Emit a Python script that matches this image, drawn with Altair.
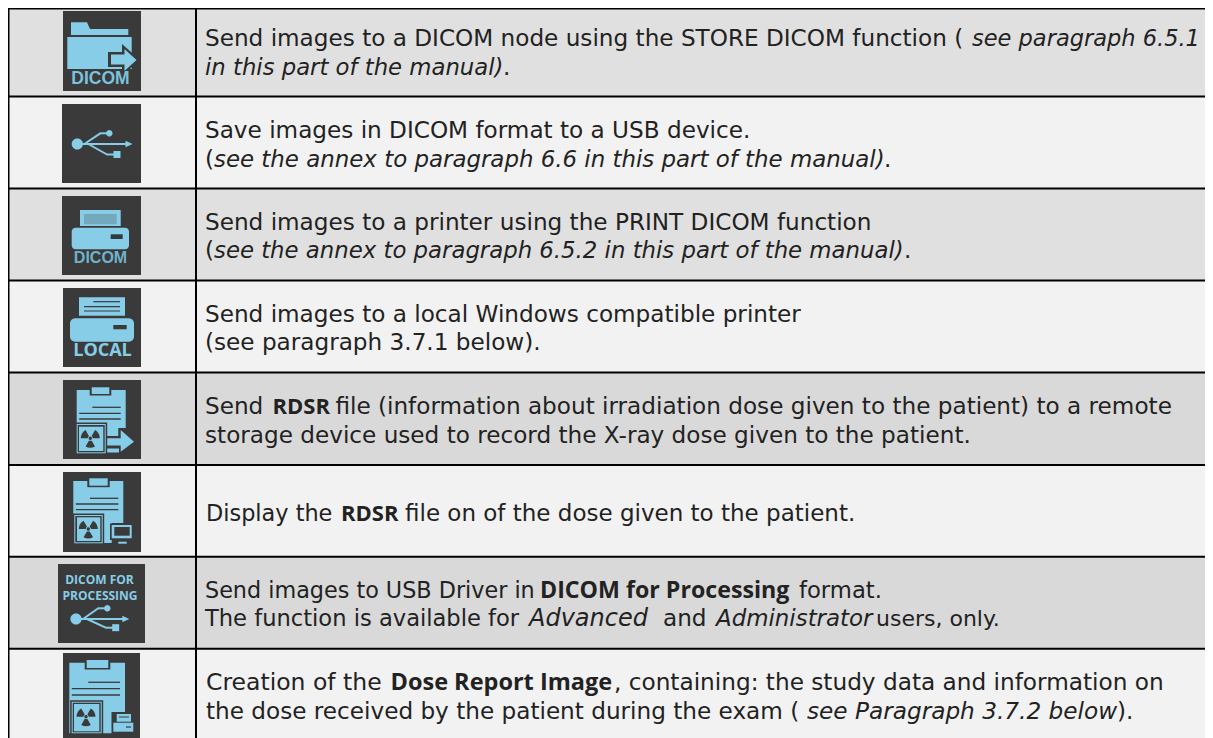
import math
import altair as alt
import pandas as pd

FONT = "DejaVu Sans"
BOLD_FONT = "Open Sans"
INK = "#222222"
DARK = "#3a3a3a"
BLUE = "#87cde8"

row_edges = [8, 96.5, 188.5, 280.5, 372.5, 465, 556.7, 648.7, 738]
row_fills = ["#e0e0e0", "#f2f2f2", "#e0e0e0", "#f2f2f2", "#d9d9d9", "#f2f2f2", "#d9d9d9", "#f2f2f2"]
col_x = 196

# text runs: (x, baseline, size, style, text)
runs = [
    (205, 46, 23.15, "normal", "Send images to a DICOM node using the STORE DICOM function ("),
    (972, 46, 22.5, "italic", "see paragraph 6.5.1"),
    (205, 75, 22.75, "italic", "in this part of the manual)"),
    (503, 75, 23.15, "normal", "."),
    (205, 138.3, 23.15, "normal", "Save images in DICOM format to a USB device."),
    (205, 166.7, 23.15, "normal", "("),
    (214, 166.7, 22.9, "italic", "see the annex to paragraph 6.6 in this part of the manual)"),
    (884, 166.7, 23.15, "normal", "."),
    (205, 230, 23.15, "normal", "Send images to a printer using the PRINT DICOM function"),
    (205, 258.3, 23.15, "normal", "("),
    (214, 258.3, 22.8, "italic", "see the annex to paragraph 6.5.2 in this part of the manual)"),
    (904, 258.3, 23.15, "normal", "."),
    (205, 321.7, 23.15, "normal", "Send images to a local Windows compatible printer"),
    (205, 350, 23.15, "normal", "(see paragraph 3.7.1 below)."),
    (205, 414, 23.15, "normal", "Send"),
    (272.5, 414, 22, "bold", "RDSR"),
    (335.4, 414, 23.15, "normal", "file (information about irradiation dose given to the patient) to a remote"),
    (205, 443, 23.15, "normal", "storage device used to record the X-ray dose given to the patient."),
    (206, 521.3, 22.4, "normal", "Display the"),
    (341, 521.3, 22, "bold", "RDSR"),
    (405, 521.3, 23, "normal", "file on of the dose given to the patient."),
    (205, 598, 22.3, "normal", "Send images to USB Driver in"),
    (540, 598, 23.2, "bold", "DICOM for Processing"),
    (799, 598, 22.7, "normal", "format."),
    (205, 626.3, 22.6, "normal", "The function is available for"),
    (529, 626.3, 24, "italic", "Advanced"),
    (663, 626.3, 23.15, "normal", "and"),
    (716, 626.3, 22.9, "italic", "Administrator"),
    (876, 626.3, 22, "normal", "users, only."),
    (206, 689.7, 23.5, "normal", "Creation of the"),
    (390.5, 689.7, 23.5, "bold", "Dose Report Image"),
    (614, 689.7, 23.2, "normal", ", containing: the study data and information on"),
    (206, 718.7, 23.15, "normal", "the dose received by the patient during the exam ("),
    (807, 718.7, 23.2, "italic", "see Paragraph 3.7.2 below"),
    (1117, 718.7, 23.15, "normal", ")."),
]

# icon tiles in reference pixels: x0, x1, y0, y1
tiles = [
    (63, 141, 11, 91), (62, 141, 104, 183), (62, 141, 196, 275), (63, 141, 288, 367),
    (63, 141, 380, 459), (63, 141, 472, 552), (58, 145, 564, 643), (63, 140, 653, 738),
]

# icon captions: x centre, baseline, size, colour, text
captions_sans = [
    (100.5, 84, 17.5, "#7cc3dd", "DICOM"),
    (100.5, 263, 16, "#6fb2cc", "DICOM"),
]
captions_open = [
    (102.5, 356, 18, "#87cde8", "LOCAL"),
    (99.5, 584, 12, "#87cde8", "DICOM FOR"),
    (100, 600, 12, "#87cde8", "PROCESSING"),
]


def rect(x0, y0, x1, y1):
    return [(x0, y0), (x1, y0), (x1, y1), (x0, y1)]


def round_rect(x0, y0, x1, y1, r):
    pts = []
    for cx, cy, a in [(x1 - r, y0 + r, -90), (x1 - r, y1 - r, 0), (x0 + r, y1 - r, 90), (x0 + r, y0 + r, 180)]:
        for k in range(5):
            t = math.radians(a + k * 22.5)
            pts.append((cx + r * math.cos(t), cy + r * math.sin(t)))
    return pts


def circle(cx, cy, r):
    return [(cx + r * math.cos(math.radians(a)), cy + r * math.sin(math.radians(a))) for a in range(0, 360, 15)]


def seg(x0, y0, x1, y1, w):
    d = math.hypot(x1 - x0, y1 - y0)
    nx, ny = -(y1 - y0) / d * w / 2, (x1 - x0) / d * w / 2
    return [(x0 + nx, y0 + ny), (x1 + nx, y1 + ny), (x1 - nx, y1 - ny), (x0 - nx, y0 - ny)]


def blade(cx, cy, a, r0, r1):
    pts = []
    for d in (-30, -15, 0, 15, 30):
        t = math.radians(a + d)
        pts.append((cx + r1 * math.cos(t), cy + r1 * math.sin(t)))
    for d in (30, -30):
        t = math.radians(a + d)
        pts.append((cx + r0 * math.cos(t), cy + r0 * math.sin(t)))
    return pts


glyphs = []


def add(icon, color, *shapes):
    ox, _, oy, _ = tiles[icon]
    for pts in shapes:
        path = "M" + " L".join(f"{x - ox:.2f},{y - oy:.2f}" for x, y in pts) + " Z"
        glyphs.append(dict(ax=ox, ay=oy, path=path, color=color, seq=len(glyphs)))


def usb(icon, cy, x0, tip, up, low):
    add(icon, BLUE,
        circle(x0, cy, 5.6),
        seg(x0, cy, tip - 5, cy, 2),
        [(tip, cy), (tip - 7, cy - 3.2), (tip - 7, cy + 3.2)],
        seg(x0 + 7, cy, up[0] - 9, up[1], 2),
        seg(up[0] - 9.5, up[1], up[0], up[1], 2),
        circle(up[0], up[1], 3.2),
        seg(x0 + 11, cy, low[0] - 10, low[1], 2),
        seg(low[0] - 10.5, low[1], low[0], low[1], 2),
        rect(low[0] - 3.5, low[1] - 3.5, low[0] + 3.5, low[1] + 3.5))


def radiation_box(icon, x0, y0, x1, y1, ix0, iy0, ix1, iy1, cx, cy):
    add(icon, DARK, rect(x0 - 1.5, y0 - 1.5, x1 + 1.5, y1 + 1.5))
    add(icon, BLUE, rect(x0, y0, x1, y1))
    add(icon, DARK, rect(x0 + 1, y0 + 1, x1 - 1, y1 - 1))
    add(icon, BLUE, rect(ix0, iy0, ix1, iy1))
    add(icon, DARK, blade(cx, cy, -30, 2.8, 9.5), blade(cx, cy, -150, 2.8, 9.5), blade(cx, cy, 90, 2.8, 9.5),
        circle(cx, cy, 1.7))


def clipboard(icon, x0, nx0, nx1, ny0, ny1, l1x, lrx, ly):
    add(icon, DARK, rect(nx0 - 2, ny0 - 1.5, nx1 + 2, ny1 + 1.5))
    add(icon, BLUE, rect(nx0, ny0, nx1, ny1))
    add(icon, DARK,
        seg(l1x, ly[0], lrx, ly[0], 1.3),
        seg(x0 + 2.5, ly[1], lrx, ly[1], 1.3),
        seg(x0 + 2.5, ly[2], lrx, ly[2], 1.3))


# 1 folder
add(0, BLUE,
    [(71, 22.3), (87, 22.3), (90, 29), (128.3, 29), (128.3, 35), (71, 35)],
    rect(67.3, 37, 131.7, 69))
add(0, DARK, [(108, 52), (122, 52), (122, 44), (140, 60), (122, 76), (122, 67), (108, 67)])
add(0, BLUE, [(111, 54.5), (124.5, 54.5), (124.5, 49), (136.5, 60), (124.5, 71), (124.5, 64.5), (111, 64.5)])

# 2 usb
usb(1, 144, 77.3, 132.5, (109.3, 133.3), (117, 154.5))

# 3 printer, DICOM
add(2, BLUE, rect(80, 210, 120.7, 226))
add(2, "#74a9bd", rect(84, 214, 116.7, 224.3))
add(2, BLUE, round_rect(71.7, 227.7, 129, 249.3, 4))
add(2, "#2f3a3f", rect(110.7, 234.3, 122.7, 239))

# 4 printer, LOCAL
add(3, BLUE, rect(79, 297.3, 125, 315.7))
add(3, DARK, seg(93.3, 301.7, 120, 301.7, 1.2), seg(84, 306.7, 120, 306.7, 1.2), seg(84, 311, 120, 311, 1.2))
add(3, BLUE, round_rect(70, 318.3, 134, 341.7, 5))
add(3, DARK, rect(113.3, 325, 126.7, 329.3))

# 5 RDSR, arrow
add(4, BLUE, rect(76.7, 390, 125.7, 428), rect(76.7, 428, 118.3, 436))
clipboard(4, 76.7, 91.7, 109.3, 387.3, 394, 92.3, 120.7, (407.3, 413.3, 419))
add(4, BLUE, [(106, 438.3), (120.7, 438.3), (120.7, 430), (134, 441.7), (120.7, 451.7), (120.7, 445.5), (106, 445.5)],
    rect(106, 448.5, 119, 452.5))
radiation_box(4, 76.7, 424, 105.7, 453.3, 79, 426.7, 103.3, 451, 90.3, 438.3)

# 6 RDSR, monitor
add(5, BLUE, rect(73.3, 481, 123.3, 523), rect(73.3, 523, 111.7, 543))
clipboard(5, 73.3, 89.3, 107.7, 478.3, 485.7, 90, 118.3, (498.3, 504, 509.7))
radiation_box(5, 74.3, 515, 102.7, 543.3, 77, 517.3, 100.3, 541, 88.3, 529)
add(5, DARK, rect(110, 523.5, 133, 540))
add(5, BLUE, rect(111.7, 525, 131.7, 538.3))
add(5, DARK, rect(114.3, 527, 129.7, 535.7))
add(5, BLUE, rect(118.3, 541.7, 126.7, 543.7))

# 7 usb for processing
usb(6, 619, 76, 129.3, (107.3, 608.3), (115.7, 627.7))

# 8 dose report
add(7, BLUE, rect(69.3, 662.7, 125, 712), rect(69.3, 712, 112, 733.3))
clipboard(7, 69.3, 86.7, 108.3, 660, 668, 88.3, 120, (682.3, 688.7, 695))
radiation_box(7, 71.7, 701.7, 101.7, 733.3, 74, 704, 99.3, 731.3, 86, 716.7)
add(7, DARK, rect(111.5, 712, 135, 735))
add(7, BLUE, rect(116.7, 714, 131, 721.7), rect(113.3, 722.7, 133.3, 731.7))
add(7, DARK, seg(119, 717, 129, 717, 1), seg(126, 727, 131, 727, 1.2))

# ---------------- frames
RIGHT = 1205
rows = pd.DataFrame({
    "x": [8] * 8, "x2": [RIGHT] * 8,
    "y": row_edges[:-1], "y2": row_edges[1:], "fill": row_fills,
})
rules = pd.DataFrame(
    [dict(x=8, x2=RIGHT, y=e - 1 if e > 8 else 8, y2=e + 1 if e > 8 else 9.5) for e in row_edges[:-1]]
    + [dict(x=8, x2=9.5, y=8, y2=738), dict(x=col_x - 1, x2=col_x + 1, y=8, y2=738)]
)
tile_df = pd.DataFrame(tiles, columns=["x", "x2", "y", "y2"])
run_df = pd.DataFrame(runs, columns=["x", "y", "size", "style", "text"])
glyph_df = pd.DataFrame(glyphs)
cap_s = pd.DataFrame(captions_sans, columns=["x", "y", "size", "color", "text"])
cap_o = pd.DataFrame(captions_open, columns=["x", "y", "size", "color", "text"])

X = alt.Scale(domain=[8, RIGHT], range=[0, RIGHT - 8])
Y = alt.Scale(domain=[8, 738], range=[0, 730])


def xe(f="x"):
    return alt.X(f"{f}:Q", scale=X, axis=None)


def ye(f="y"):
    return alt.Y(f"{f}:Q", scale=Y, axis=None)


row_layer = alt.Chart(rows).mark_rect(strokeWidth=0).encode(
    x=xe(), x2="x2:Q", y=ye(), y2="y2:Q", fill=alt.Fill("fill:N", scale=None))
rule_layer = alt.Chart(rules).mark_rect(color="#000000", strokeWidth=0).encode(
    x=xe(), x2="x2:Q", y=ye(), y2="y2:Q")
tile_layer = alt.Chart(tile_df).mark_rect(color=DARK, strokeWidth=0).encode(
    x=xe(), x2="x2:Q", y=ye(), y2="y2:Q")
glyph_layer = alt.Chart(glyph_df).mark_point(filled=True, opacity=1, size=4, strokeWidth=0).encode(
    x=alt.X("ax:Q", scale=X, axis=None), y=alt.Y("ay:Q", scale=Y, axis=None),
    shape=alt.Shape("path:N", scale=None),
    fill=alt.Fill("color:N", scale=None),
    order=alt.Order("seq:Q"))


def text_layer(style, font=FONT, **kw):
    return alt.Chart(run_df[run_df["style"] == style]).mark_text(
        align="left", baseline="alphabetic", font=font, color=INK, **kw
    ).encode(x=xe(), y=ye(), text="text:N", size=alt.Size("size:Q", scale=None))


def cap_layer(df, font):
    return alt.Chart(df).mark_text(align="center", baseline="alphabetic", font=font, fontWeight="bold").encode(
        x=xe(), y=ye(), text="text:N",
        size=alt.Size("size:Q", scale=None),
        color=alt.Color("color:N", scale=None))


chart = alt.layer(
    row_layer, rule_layer, tile_layer, glyph_layer,
    cap_layer(cap_s, "Liberation Sans"), cap_layer(cap_o, "Open Sans"),
    text_layer("normal"), text_layer("italic", fontStyle="italic"),
    text_layer("bold", font=BOLD_FONT, fontWeight="bold"),
).properties(
    width=RIGHT - 8, height=730, padding=0, autosize=alt.AutoSizeParams(type="none"), background="#ffffff",
).configure_view(strokeWidth=0)

chart.save("out.html", embed_options={"renderer": "svg", "actions": False})
